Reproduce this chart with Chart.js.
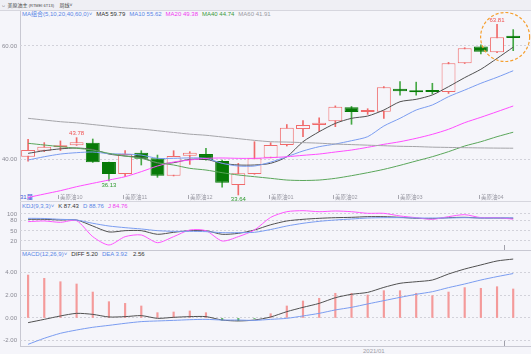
<!DOCTYPE html>
<html>
<head>
<meta charset="utf-8">
<script src="https://cdn.jsdelivr.net/npm/chart.js@4.4.0/dist/chart.umd.min.js"></script>
<style>
  body { margin: 0; width: 531px; height: 354px; background: #f5f5fa; position: relative; overflow: hidden;
         font-family: "Liberation Sans", "Noto Sans CJK SC", sans-serif; }
  canvas { position: absolute; left: 0; }
  .ln { position: absolute; background: #c8c8d2; }
  .hd { position: absolute; left: 22px; font-size: 6px; line-height: 8px; white-space: nowrap; color: #333; }
  .hd span { margin-right: 4px; }
  .blue { color: #5a86e6; } .pink { color: #f03cf0; } .green { color: #3a9a3a; } .gray { color: #9a9aa2; }
</style>
</head>
<body>
<div style="position:absolute;left:0;top:0;width:531px;height:10px;background:#efeff4;border-bottom:1px solid #d6d6de;"></div>
<div style="position:absolute;left:1px;top:1px;font-size:5px;line-height:8px;color:#444;white-space:nowrap;">⇔ 美原油主 <span style="font-size:4px">(RTMEI 6T13)</span>&nbsp;&nbsp;&nbsp;&nbsp;周线˅</div>
<div class="hd" style="top:10px;">
  <span class="blue">MA组合(5,10,20,40,60,0)˅</span><span>MA5 59.79</span><span class="blue">MA10 55.62</span><span class="pink">MA20 49.38</span><span class="green">MA40 44.74</span><span class="gray">MA60 41.91</span>
</div>
<div class="ln" style="left:20px;top:11px;width:1px;height:335px;"></div>
<div class="ln" style="left:20px;top:201px;width:511px;height:1px;background:#d6d6de;"></div>
<div class="ln" style="left:20px;top:250px;width:511px;height:1px;"></div>
<div class="ln" style="left:20px;top:346px;width:511px;height:1px;"></div>
<div class="ln" style="left:504px;top:245px;width:1px;height:5px;background:#a0a0aa;"></div>
<div class="ln" style="left:504px;top:341px;width:1px;height:5px;background:#a0a0aa;"></div>
<div style="position:absolute;left:20px;top:193px;font-size:6px;line-height:8px;color:#3b55d6;">31届</div>
<div class="hd" style="top:202px;">
  <span class="blue">KDJ(9,3,3)˅</span><span>K 87.43</span><span class="blue">D 88.76</span><span class="pink">J 84.76</span>
</div>
<div class="hd" style="top:250px;">
  <span class="blue">MACD(12,26,9)˅</span><span>DIFF 5.20</span><span class="blue">DEA 3.92</span><span>&nbsp;2.56</span>
</div>
<div style="position:absolute;left:363px;top:347px;font-size:6px;line-height:8px;color:#a0a0a8;">2021/01</div>

<canvas id="mainChart" width="531" height="190" style="top:11px"></canvas>
<canvas id="kdjChart" width="531" height="41" style="top:209px"></canvas>
<canvas id="macdChart" width="531" height="95" style="top:251px"></canvas>

<script>
// weekly bars, Sep 2020 - Apr 2021
const weeks = ['2020-09-21','2020-09-28','2020-10-05','2020-10-12','2020-10-19','2020-10-26','2020-11-02','2020-11-09',
  '2020-11-16','2020-11-23','2020-11-30','2020-12-07','2020-12-14','2020-12-21','2020-12-28','2021-01-04','2021-01-11',
  '2021-01-18','2021-01-25','2021-02-01','2021-02-08','2021-02-15','2021-02-22','2021-03-01','2021-03-08','2021-03-15',
  '2021-03-22','2021-03-29','2021-04-05','2021-04-12','2021-04-19'];

const open  = [40.41, 41.47, 42.07, 42.42, 42.88, 39.47, 37.35, 41.12, 40.12, 37.05, 40.59, 40.88, 39.65, 35.40, 37.35, 40.23,
  42.48, 45.30, 46.00, 46.70, 49.15, 48.30, 48.37, 52.45, 52.04, 52.10, 51.86, 56.94, 59.90, 58.88, 61.80];
const close = [41.59, 42.18, 42.30, 42.95, 39.41, 37.35, 40.88, 40.06, 37.05, 40.53, 41.12, 39.82, 35.80, 37.47, 40.12, 42.48,
  45.54, 46.00, 46.40, 49.26, 48.30, 48.50, 52.69, 51.98, 51.80, 51.86, 56.94, 59.60, 59.00, 61.54, 61.40];
const high  = [43.50, 42.90, 43.20, 43.78, 43.54, 39.47, 41.47, 41.47, 40.70, 41.47, 41.30, 41.89, 39.82, 39.23, 43.06, 42.88,
  46.10, 46.78, 47.30, 49.40, 49.30, 48.90, 52.80, 53.70, 53.60, 53.40, 57.10, 59.70, 60.20, 63.81, 62.90];
const low   = [39.60, 41.30, 41.50, 42.40, 39.40, 36.13, 36.87, 38.94, 36.76, 37.00, 39.05, 39.80, 35.00, 33.64, 37.30, 40.20,
  42.30, 43.95, 44.90, 45.72, 46.14, 47.90, 47.20, 51.30, 51.30, 51.50, 51.60, 56.90, 58.60, 58.80, 59.17];

const ma5  = [41.00, 41.47, 41.80, 41.95, 41.70, 40.88, 40.53, 40.30, 39.24, 39.35, 39.94, 39.94, 39.24, 38.94, 38.94, 39.24,
  40.40, 43.06, 44.83, 46.30, 47.20, 47.60, 48.67, 50.14, 50.56, 51.33, 52.80, 54.40, 55.88, 57.80, 59.79];
const ma10 = [39.82, 40.40, 40.88, 41.12, 41.24, 40.94, 40.88, 40.70, 40.12, 40.12, 40.20, 40.12, 39.24, 38.76, 38.76, 39.45,
  40.40, 41.42, 42.18, 42.65, 43.24, 43.95, 45.84, 47.20, 48.67, 49.56, 51.03, 52.20, 53.40, 54.46, 55.62];
const ma20 = [33.20, 33.80, 34.40, 35.10, 35.70, 36.28, 36.87, 37.76, 38.76, 39.47, 39.82, 40.12, 40.18, 40.12, 40.12, 40.24,
  40.40, 40.65, 40.88, 41.24, 41.59, 42.07, 42.60, 43.06, 43.66, 44.37, 45.26, 46.43, 47.38, 48.37, 49.38];
const ma40 = [42.78, 42.48, 42.18, 41.90, 41.59, 41.00, 40.53, 40.12, 39.35, 38.94, 38.35, 38.05, 37.58, 37.17, 36.87, 36.58,
  36.28, 36.20, 36.28, 36.58, 37.05, 37.58, 38.17, 38.88, 39.65, 40.41, 41.30, 42.30, 43.06, 43.95, 44.74];
const ma60 = [47.20, 46.90, 46.60, 46.40, 46.10, 45.80, 45.50, 45.30, 45.00, 44.70, 44.40, 44.20, 43.90, 43.60, 43.30, 43.06,
  43.00, 42.90, 42.80, 42.65, 42.55, 42.45, 42.35, 42.25, 42.20, 42.10, 42.05, 42.00, 41.96, 41.93, 41.91];

const kLine = [84.2, 84.2, 82.2, 82.2, 64.4, 46.7, 50.6, 50.6, 39.8, 45.7, 50.6, 50.6, 39.8, 42.7, 52.6, 68.0,
  79.3, 84.2, 87.2, 89.1, 90.1, 92.1, 92.1, 90.1, 87.2, 86.2, 89.1, 90.1, 88.1, 88.1, 87.43];
const dLine = [87.2, 86.7, 84.2, 82.2, 72.4, 64.4, 59.5, 55.6, 50.6, 48.6, 48.6, 47.7, 44.7, 44.7, 45.7, 54.0,
  64.4, 72.4, 78.3, 82.2, 85.2, 88.1, 89.1, 89.1, 88.1, 88.1, 88.1, 89.1, 88.1, 88.1, 88.76];
const jLine = [77.3, 79.3, 75.3, 80.2, 32.8, 8.1, 32.8, 37.8, 15.0, 32.8, 52.6, 50.6, 20.0, 32.8, 52.6, 90.0,
  106.8, 109.8, 106.8, 108.9, 106.8, 102.0, 102.0, 94.1, 89.1, 84.2, 92.1, 98.0, 89.1, 89.1, 84.76];

const diff = [-0.41, -0.12, 0.18, 0.41, 0.32, 0.09, 0.12, 0.21, -0.03, 0.06, 0.12, 0.12, -0.18, -0.26, -0.18, 0.09,
  0.56, 0.94, 1.29, 1.79, 2.09, 2.26, 2.70, 3.06, 3.20, 3.35, 3.88, 4.32, 4.68, 5.03, 5.20];
const dea  = [-2.32, -1.79, -1.35, -1.06, -0.82, -0.65, -0.47, -0.32, -0.26, -0.21, -0.15, -0.12, -0.18, -0.18, -0.21, -0.12,
  -0.03, 0.18, 0.41, 0.71, 0.94, 1.24, 1.53, 1.82, 2.09, 2.32, 2.68, 3.00, 3.35, 3.65, 3.92];
const macdHist = [3.79, 3.50, 3.20, 3.00, 2.29, 1.44, 1.29, 1.06, 0.47, 0.53, 0.62, 0.47, -0.18, -0.24, -0.05, 0.38,
  1.06, 1.50, 1.74, 2.18, 2.18, 2.03, 2.41, 2.41, 2.18, 1.97, 2.29, 2.68, 2.62, 2.76, 2.56];

const monthTickIdx  = [2, 6, 10, 15, 19, 23, 28];
const monthTickText = ['美原油10', '美原油11', '美原油12', '美原油01', '美原油02', '美原油03', '美原油04'];
const priceTicks = [40, 60];
const kdjTicks = [20, 50, 80, 100];
const macdTicks = [-2, 0, 2, 4];
const markHigh = [3, 29];
const markLow = [5, 13];

const BG = '#f5f5fa';
const UP = '#f06a6a';
const DOWN = '#077a07';
const DOWN_WICK = '#45a845';
const FONT = '"Liberation Sans", "Noto Sans CJK SC", sans-serif';

const pts = arr => arr.map((v, i) => ({ x: i, y: v }));
const isUp = i => close[i] >= open[i];

function xAxis() {
  return { type: 'linear', display: false, min: -0.5, max: weeks.length + 0.1, offset: false };
}

function yAxis(min, max, ticks) {
  return {
    min: min, max: max,
    afterFit: s => { s.width = 20; },
    afterBuildTicks: s => { s.ticks = ticks.map(v => ({ value: v })); },
    ticks: { display: false },
    border: { display: false, dash: [2, 2] },
    grid: { color: '#d2d2da', drawTicks: false, lineWidth: 1 }
  };
}

function line(data, color) {
  return { type: 'line', data: pts(data), borderColor: color, borderWidth: 1, pointRadius: 0, tension: 0.25, order: 1 };
}

function yLabels(fmt) {
  return {
    id: 'ylabels',
    afterDraw(chart) {
      const ys = chart.scales.y, ctx = chart.ctx;
      ctx.save();
      ctx.font = '6px ' + FONT;
      ctx.fillStyle = '#8a8a94';
      ctx.textAlign = 'right';
      ctx.textBaseline = 'middle';
      ys.ticks.forEach(t => ctx.fillText(fmt(t.value), 17, ys.getPixelForValue(t.value)));
      ctx.restore();
    }
  };
}

const baseOptions = (yMin, yMax, ticks) => ({
  responsive: false,
  animation: false,
  events: [],
  layout: { padding: 0 },
  plugins: { legend: { display: false }, tooltip: { enabled: false } },
  scales: { x: xAxis(), y: yAxis(yMin, yMax, ticks) }
});

// price panel extras: extreme labels, month labels, highlight ring
const priceMarks = {
  id: 'priceMarks',
  afterDatasetsDraw(chart) {
    const xs = chart.scales.x, ys = chart.scales.y, ctx = chart.ctx;
    ctx.save();
    ctx.font = '6px ' + FONT;
    ctx.textAlign = 'center';
    markHigh.forEach(i => {
      ctx.fillStyle = '#f05050';
      ctx.textBaseline = 'bottom';
      ctx.fillText(high[i].toFixed(2), xs.getPixelForValue(i), ys.getPixelForValue(high[i]) - 1);
    });
    markLow.forEach(i => {
      ctx.fillStyle = '#2e9a2e';
      ctx.textBaseline = 'top';
      ctx.fillText(low[i].toFixed(2), xs.getPixelForValue(i), ys.getPixelForValue(low[i]) + 1);
    });

    const ty = chart.chartArea.bottom - 4;
    ctx.font = '5.5px ' + FONT;
    ctx.textAlign = 'left';
    ctx.textBaseline = 'middle';
    ctx.fillStyle = '#9a9aa4';
    ctx.strokeStyle = '#a8a8b0';
    ctx.lineWidth = 1;
    monthTickIdx.forEach((idx, k) => {
      const px = Math.round(xs.getPixelForValue(idx)) - 1.5;
      ctx.beginPath(); ctx.moveTo(px, ty - 2); ctx.lineTo(px, ty + 2); ctx.stroke();
      ctx.fillText(monthTickText[k], px + 1.5, ty);
    });

    const last = weeks.length - 1;
    const cx = (xs.getPixelForValue(last - 1) + xs.getPixelForValue(last)) / 2;
    const cy = ys.getPixelForValue((high[last - 1] + low[last]) / 2 + 0.1);
    ctx.strokeStyle = '#f5a030';
    ctx.lineWidth = 1.2;
    ctx.setLineDash([3, 2]);
    ctx.beginPath();
    ctx.arc(cx, cy, 24.5, 0, Math.PI * 2);
    ctx.stroke();
    ctx.restore();
  }
};

new Chart(document.getElementById('mainChart').getContext('2d'), {
  type: 'bar',
  data: {
    datasets: [
      {
        data: weeks.map((_, i) => ({ x: i, y: [low[i], high[i]] })),
        backgroundColor: weeks.map((_, i) => isUp(i) ? UP : DOWN_WICK),
        barThickness: 1, grouped: false, order: 3
      },
      {
        data: weeks.map((_, i) => ({ x: i, y: [open[i], close[i]] })),
        backgroundColor: weeks.map((_, i) => isUp(i) ? BG : DOWN),
        borderColor: weeks.map((_, i) => isUp(i) ? UP : DOWN),
        borderWidth: 1, borderSkipped: false, minBarLength: 2,
        barPercentage: 0.86, categoryPercentage: 1, grouped: false, order: 2
      },
      line(ma60, '#a4a4a8'),
      line(ma40, '#5aa65a'),
      line(ma20, '#ff4cff'),
      line(ma10, '#7a9cf0'),
      line(ma5, '#505050')
    ]
  },
  options: baseOptions(32.57, 66.19, priceTicks),
  plugins: [yLabels(v => v.toFixed(2)), priceMarks]
});

new Chart(document.getElementById('kdjChart').getContext('2d'), {
  type: 'line',
  data: {
    datasets: [
      line(dLine, '#7a9cf0'),
      line(jLine, '#ff55ff'),
      line(kLine, '#505050')
    ]
  },
  options: baseOptions(-6.7, 114.8, kdjTicks),
  plugins: [yLabels(v => String(v))]
});

new Chart(document.getElementById('macdChart').getContext('2d'), {
  type: 'bar',
  data: {
    datasets: [
      {
        data: pts(macdHist),
        backgroundColor: macdHist.map(v => v >= 0 ? '#f49a9a' : '#4caf50'),
        barThickness: 1.5, grouped: false, order: 2
      },
      line(dea, '#7a9cf0'),
      line(diff, '#505050')
    ]
  },
  options: baseOptions(-2.47, 5.91, macdTicks),
  plugins: [yLabels(v => v.toFixed(2))]
});
</script>
</body>
</html>
